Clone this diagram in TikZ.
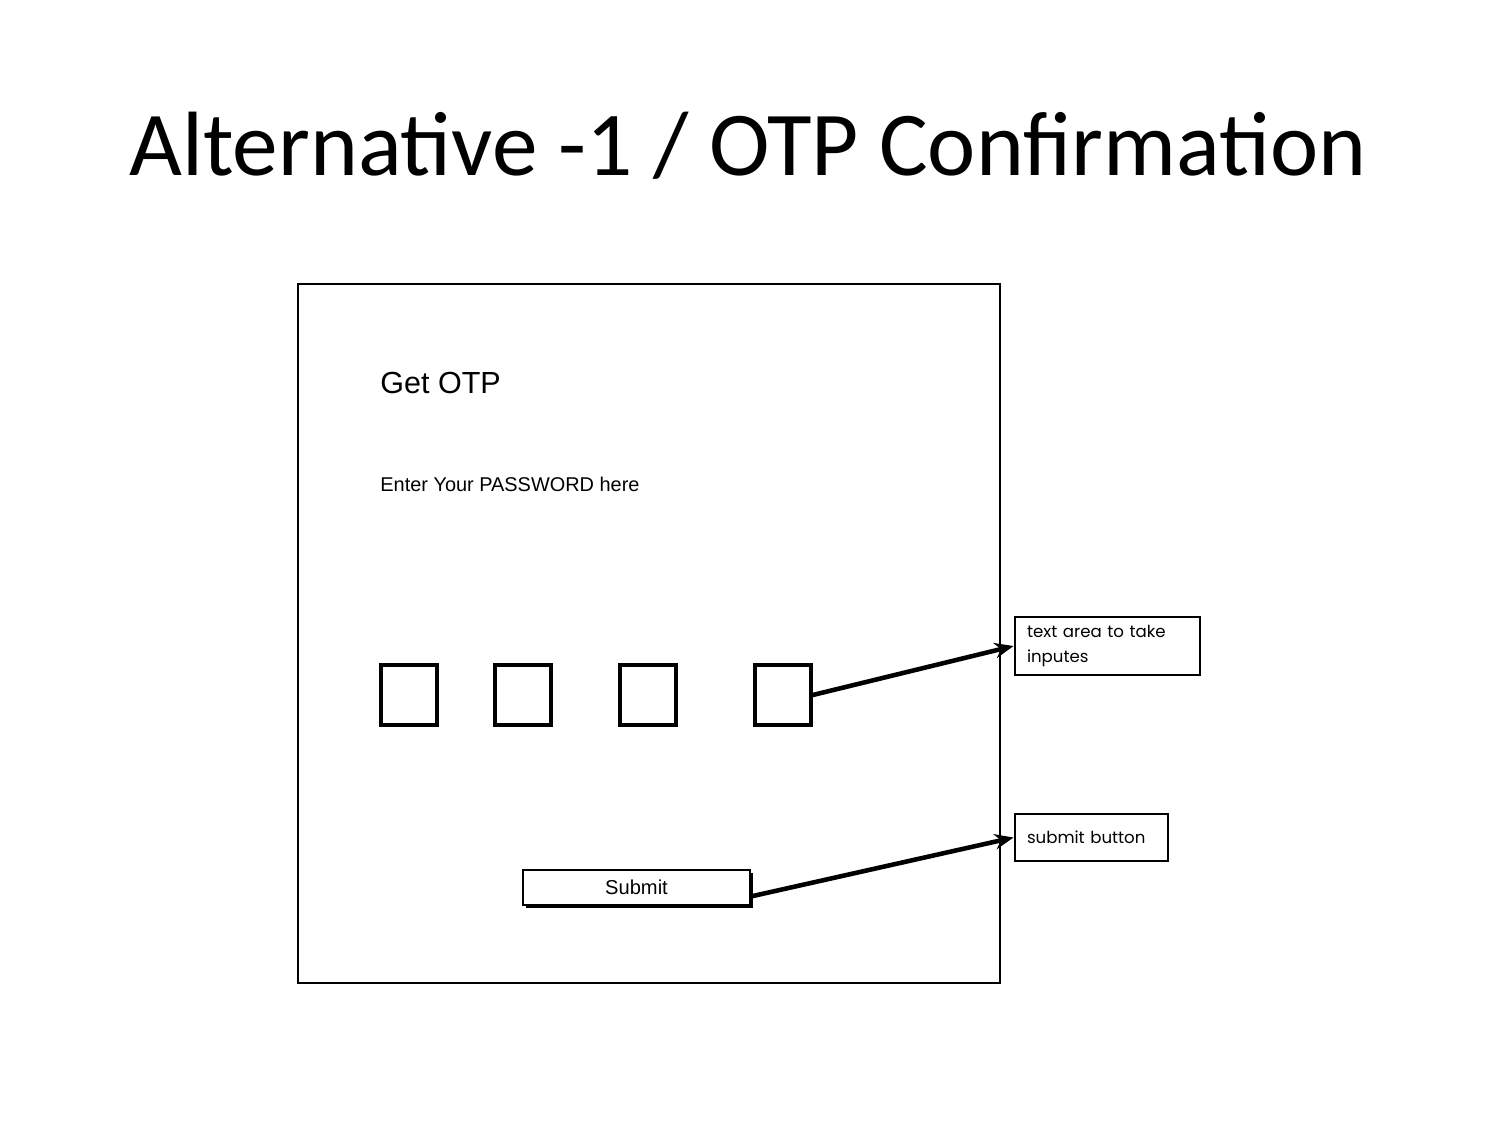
\documentclass[tikz,border=0pt]{standalone}
\usepackage{fontspec}
\setmainfont{Liberation Sans}
\newfontfamily\slidefont{Carlito}
\newfontfamily\notefont{Poppins}
\usepackage{tikz}
\usetikzlibrary{arrows.meta,positioning,shadows}
\def\u{0.016933cm}

\begin{document}
\begin{tikzpicture}[
    x=\u, y=-\u,
    title/.style={font=\slidefont\fontsize{44}{52}\selectfont, anchor=base, inner sep=0pt},
    label/.style={anchor=base west, inner sep=0pt},
    screen/.style={draw, line width=1.1pt, minimum width=702*\u, minimum height=699*\u, inner sep=0pt},
    digit/.style={draw, line width=1.7pt, minimum width=56*\u, minimum height=60*\u, inner sep=0pt},
    btn/.style={draw, line width=1.2pt, fill=white, minimum width=227*\u, minimum height=35*\u,
                inner sep=0pt, font=\fontsize{9.7}{11}\selectfont,
                drop shadow={shadow xshift=1.6pt, shadow yshift=-1.6pt, fill=black, opacity=1}},
    note/.style={draw, line width=1.4pt, align=left, inner xsep=12*\u, inner ysep=0pt,
                 font=\notefont\fontsize{8}{12}\selectfont},
    arr/.style={-{Stealth[length=3.2mm,width=2.6mm]}, line width=2.2pt}
]
\useasboundingbox (0,0) rectangle (1500,1125);
\node[title] (head) at (748,175) {Alternative -1 / OTP Confirmation};
\node[screen] (screen) at (649,633.5) {};
\node[label, font=\fontsize{14.7}{17}\selectfont] (getotp) at (380,393) {Get OTP};
\node[label, font=\fontsize{9.6}{11}\selectfont] (prompt) at (380,491) {Enter Your PASSWORD here};
\node[digit] (d1) at (409,695) {};
\node[digit] (d2) at (523,695) {};
\node[digit] (d3) at (648,695) {};
\node[digit] (d4) at (783,695) {};
\node[btn] (submit) at (636.5,887.5) {Submit};
\node[note, text width=161*\u, minimum height=58*\u] (notefield) at (1107.5,646) {text area to take\\inputes};
\node[note, text width=129*\u, minimum height=47*\u] (notebtn) at (1091.5,837.5) {submit button};
\draw[arr] (d4.east) -- (notefield.west);
\draw[arr] ([yshift=-1.5mm]submit.east) -- (notebtn.west);
\end{tikzpicture}
\end{document}
